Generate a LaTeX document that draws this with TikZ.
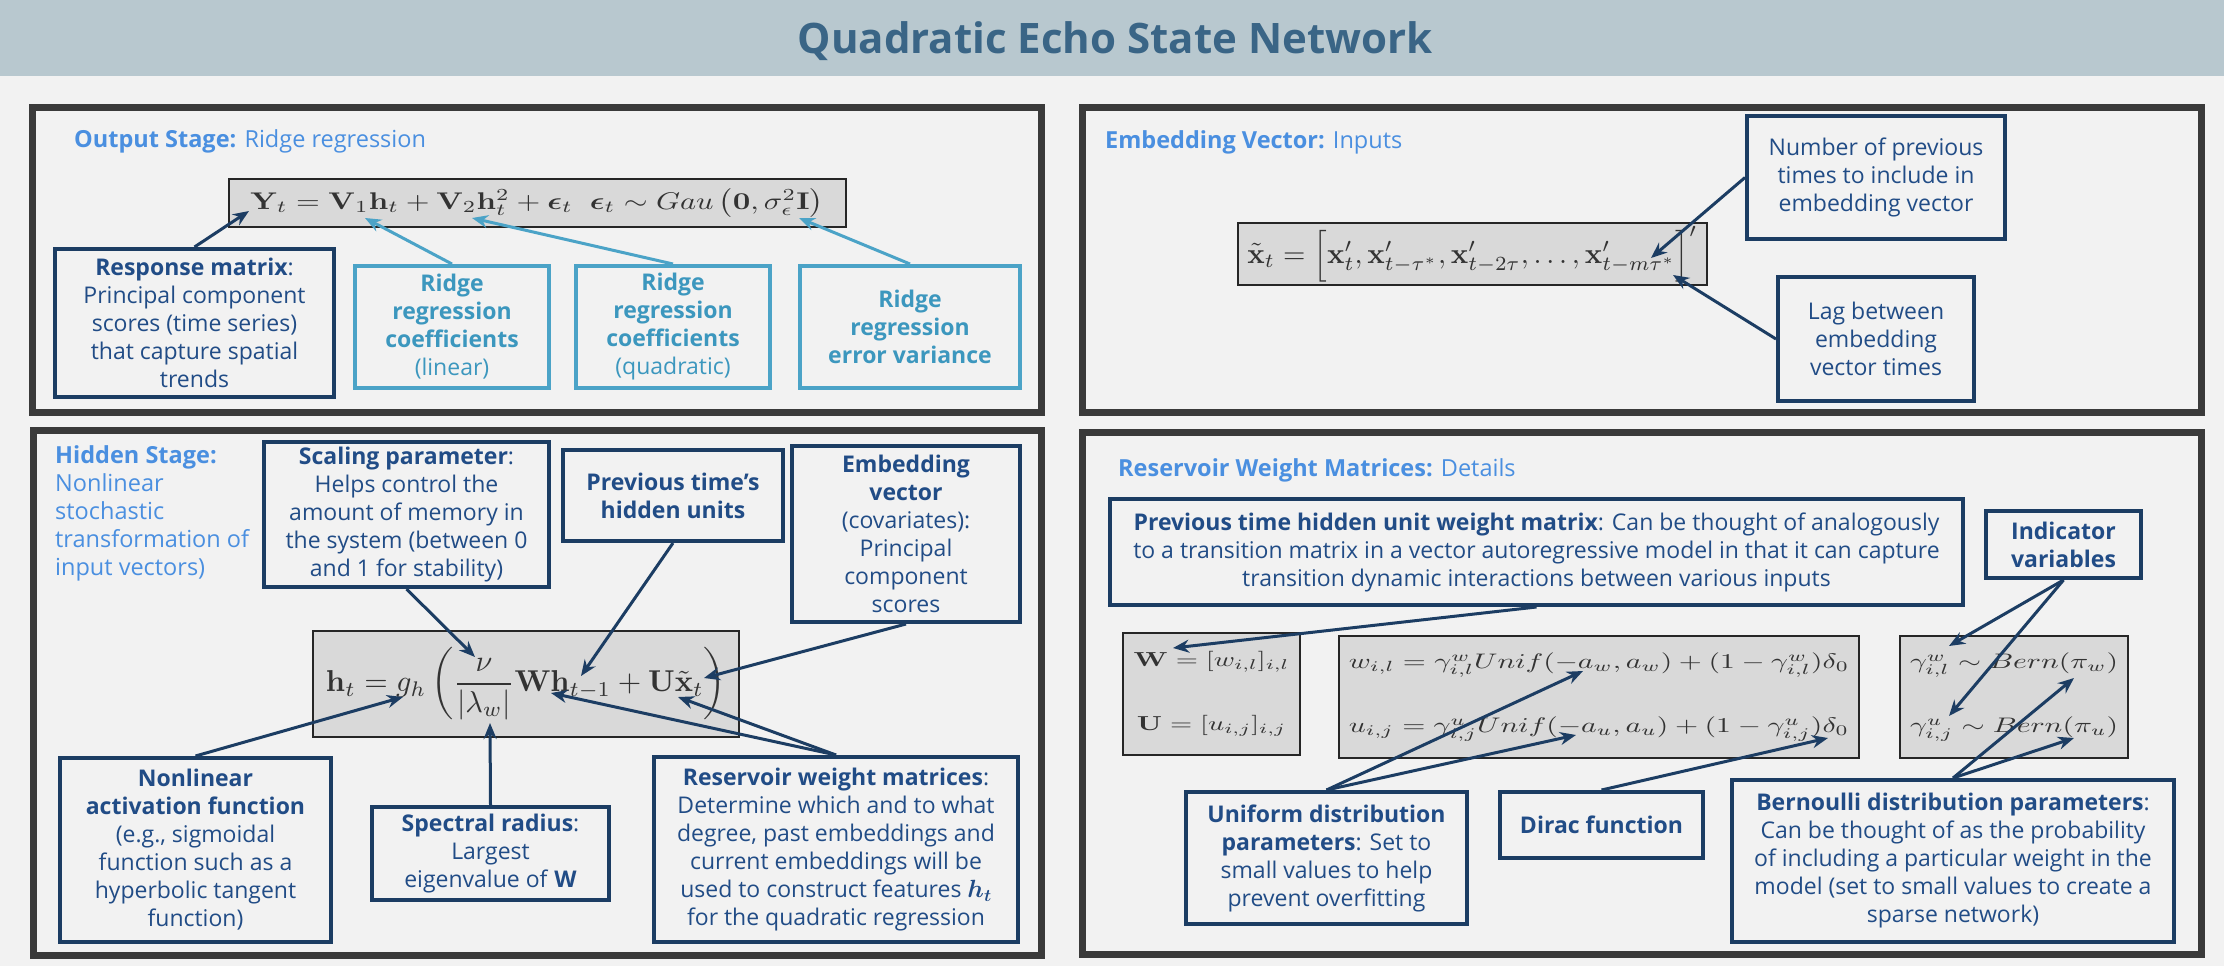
\documentclass[tikz,border=0pt]{standalone}
\usepackage{amsmath}
\usepackage{bm}
\usepackage[no-math]{fontspec}
\setmainfont{Open Sans}
\usetikzlibrary{arrows.meta, positioning}
\definecolor{bandgray}{HTML}{B8C8CF}
\definecolor{pagegray}{HTML}{F2F2F2}
\definecolor{titleblue}{HTML}{3A6586}
\definecolor{headblue}{HTML}{4A8FE0}
\definecolor{panelgray}{HTML}{3A3A3A}
\definecolor{navyline}{HTML}{1C3D63}
\definecolor{navytext}{HTML}{214C86}
\definecolor{tealline}{HTML}{4BA3C7}
\definecolor{tealtext}{HTML}{3C97BE}
\definecolor{eqgray}{HTML}{D9D9D9}
\newcommand{\notefont}{\fontsize{23}{28}\selectfont}
\newcommand{\headfont}{\fontsize{23.5}{28}\selectfont}
% equation stretched to a given width (pt), #2 = height/width ratio of the stretch
\newcommand{\fiteq}[3]{\resizebox{#1pt}{!}{\scalebox{1}[#2]{$#3$}}}

\begin{document}
\begin{tikzpicture}[
    x=1pt, y=-1pt,
    panel_style/.style={draw=panelgray, line width=7pt},
    head_style/.style={font=\headfont, text=headblue, inner sep=0pt},
    note_style/.style={draw=navyline, line width=4pt, text=navytext,
      align=center, inner sep=0pt, font=\notefont},
    ridge_style/.style={note_style, draw=tealline, text=tealtext},
    eq_style/.style={draw=black!85, line width=2pt, fill=eqgray,
      inner sep=0pt, text=black!80, align=center},
    arrow_style/.style={draw=navyline, line width=3pt,
      -{Stealth[length=16pt,width=13pt]}},
    ridge_arrow/.style={arrow_style, draw=tealline}
]
    \useasboundingbox (0,0) rectangle (2224,966);
    \fill[pagegray] (0,0) rectangle (2224,966);

    % --- Bandeau du titre ---
    \fill[bandgray] (0,0) rectangle (2224,76);
    \node[font=\fontsize{42}{50}\selectfont\bfseries, text=titleblue,
          anchor=base] (title) at (1115,53) {Quadratic Echo State Network};

    % --- Cadres des quatre panneaux ---
    \draw[panel_style] (32.5,107.5) rectangle (1041.5,412.5);
    \draw[panel_style] (1082.5,107.5) rectangle (2201.5,412.5);
    \draw[panel_style] (33.5,430.5) rectangle (1041.5,955.5);
    \draw[panel_style] (1082.5,432.5) rectangle (2201.5,954.5);

    % --- Output Stage ---
    \node[head_style, anchor=base west] (outhead) at (74,147)
        {\textbf{Output Stage:} Ridge regression};
    \node[eq_style, minimum width=617, minimum height=48] (eqY) at (537,203)
        {\fiteq{573}{0.79}{\mathbf{Y}_t=\mathbf{V}_1\mathbf{h}_t+\mathbf{V}_2\mathbf{h}_t^2
          +\bm{\epsilon}_t\;\;\bm{\epsilon}_t\sim Gau\left(\mathbf{0},
          \sigma_\epsilon^2\mathbf{I}\right)}};
    \node[note_style, minimum width=279, minimum height=148] (resp) at (194.5,323)
        {\textbf{Response matrix}:\\Principal component\\scores (time series)\\
         that capture spatial\\trends};
    \node[ridge_style, minimum width=194, minimum height=122] (ridgelin) at (452,327)
        {\textbf{Ridge}\\\textbf{regression}\\\textbf{coefficients}\\(linear)};
    \node[ridge_style, minimum width=194, minimum height=122] (ridgequad) at (673,327)
        {\textbf{Ridge}\\\textbf{regression}\\\textbf{coefficients}\\(quadratic)};
    \node[ridge_style, minimum width=220, minimum height=122] (ridgevar) at (910,327)
        {\textbf{Ridge}\\\textbf{regression}\\\textbf{error variance}};
    \coordinate (tY) at (249,211);
    \coordinate (tV1) at (365,218);
    \coordinate (tV2) at (472,218);
    \coordinate (tsig) at (799,218);
    \draw[arrow_style] (resp.north) -- (tY);
    \draw[ridge_arrow] (ridgelin.north) -- (tV1);
    \draw[ridge_arrow] (ridgequad.north) -- (tV2);
    \draw[ridge_arrow] (ridgevar.north) -- (tsig);

    % --- Embedding Vector ---
    \node[head_style, anchor=base west] (embhead) at (1105,148)
        {\textbf{Embedding Vector:} Inputs};
    \node[eq_style, minimum width=469, minimum height=62] (eqX) at (1472.5,254)
        {\fiteq{450}{1.0}{\tilde{\mathbf{x}}_t=\Big[\mathbf{x}'_t,\mathbf{x}'_{t-\tau^*},
          \mathbf{x}'_{t-2\tau},\dots,\mathbf{x}'_{t-m\tau^*}\Big]'}};
    \node[note_style, minimum width=258, minimum height=123] (numprev) at (1876,177.5)
        {Number of previous\\times to include in\\embedding vector};
    \node[note_style, minimum width=196, minimum height=124] (lag) at (1876,339)
        {Lag between\\embedding\\vector times};
    \coordinate (tm) at (1651,258);
    \coordinate (ttau) at (1673,275);
    \draw[arrow_style] (numprev.west) -- (tm);
    \draw[arrow_style] (lag.west) -- (ttau);

    % --- Hidden Stage ---
    \node[head_style, anchor=north west, align=left] (hidhead) at (55,445.5)
        {\textbf{Hidden Stage:}\\Nonlinear\\stochastic\\transformation of\\input vectors)};
    \node[note_style, minimum width=285, minimum height=145] (scaling) at (406.5,514.5)
        {\textbf{Scaling parameter}:\\Helps control the\\amount of memory in\\
         the system (between 0\\and 1 for stability)};
    \node[note_style, minimum width=220, minimum height=91] (prevh) at (673,495.5)
        {\textbf{Previous time’s}\\\textbf{hidden units}};
    \node[note_style, minimum width=228, minimum height=176] (embvec) at (906,534)
        {\textbf{Embedding}\\\textbf{vector}\\(covariates):\\Principal\\component\\scores};
    \node[eq_style, minimum width=426, minimum height=106] (eqH) at (526,684)
        {\fiteq{400}{1.0}{\mathbf{h}_t=g_h\left(\dfrac{\nu}{|\lambda_w|}\mathbf{W}
          \mathbf{h}_{t-1}+\mathbf{U}\tilde{\mathbf{x}}_t\right)}};
    \node[note_style, minimum width=271, minimum height=184] (nonlin) at (195.5,850)
        {\textbf{Nonlinear}\\\textbf{activation function}\\(e.g., sigmoidal\\
         function such as a\\hyperbolic tangent\\function)};
    \node[note_style, minimum width=237, minimum height=93] (spectral) at (490.5,853.5)
        {\textbf{Spectral radius}:\\Largest\\eigenvalue of \textbf{W}};
    \node[note_style, minimum width=364, minimum height=185] (reservoir) at (836,849.5)
        {\textbf{Reservoir weight matrices}:\\Determine which and to what\\
         degree, past embeddings and\\current embeddings will be\\
         used to construct features $\bm{h_t}$\\for the quadratic regression};
    \coordinate (tnu) at (475,657);
    \coordinate (thprev) at (581,676);
    \coordinate (txt) at (704,678);
    \coordinate (tg) at (403,697);
    \coordinate (tlam) at (490,723);
    \coordinate (tW) at (551,693);
    \coordinate (tU) at (678,697);
    \draw[arrow_style] (scaling.south) -- (tnu);
    \draw[arrow_style] (prevh.south) -- (thprev);
    \draw[arrow_style] (embvec.south) -- (txt);
    \draw[arrow_style] (nonlin.north) -- (tg);
    \draw[arrow_style] (spectral.north) -- (tlam);
    \draw[arrow_style] (reservoir.north) -- (tW);
    \draw[arrow_style] (reservoir.north) -- (tU);

    % --- Reservoir Weight Matrices ---
    \node[head_style, anchor=base west] (reshead) at (1118,476)
        {\textbf{Reservoir Weight Matrices:} Details};
    \node[note_style, minimum width=853, minimum height=106] (wmat) at (1536.5,552)
        {\textbf{Previous time hidden unit weight matrix}: Can be thought of analogously\\
         to a transition matrix in a vector autoregressive model in that it can capture\\
         transition dynamic interactions between various inputs};
    \node[note_style, minimum width=155, minimum height=67] (indic) at (2063.5,544.5)
        {\textbf{Indicator}\\\textbf{variables}};
    \node[eq_style, minimum width=177, minimum height=122,
          font=\fontsize{10}{64}\selectfont] (eqWU) at (1211.5,694)
        {\fiteq{156}{0.71}{\mathbf{W}=[w_{i,l}]_{i,l}}\\
         \fiteq{149}{0.71}{\mathbf{U}=[u_{i,j}]_{i,j}}};
    \node[eq_style, minimum width=520, minimum height=122,
          font=\fontsize{10}{64}\selectfont] (eqwu) at (1599,697)
        {\fiteq{500}{0.71}{w_{i,l}=\gamma^w_{i,l}Unif(-a_w,a_w)+(1-\gamma^w_{i,l})\delta_0}\\
         \fiteq{500}{0.71}{u_{i,j}=\gamma^u_{i,j}Unif(-a_u,a_u)+(1-\gamma^u_{i,j})\delta_0}};
    \node[eq_style, minimum width=228, minimum height=122,
          font=\fontsize{10}{64}\selectfont] (eqgam) at (2014,697)
        {\fiteq{208}{0.71}{\gamma^w_{i,l}\sim Bern(\pi_w)}\\
         \fiteq{208}{0.71}{\gamma^u_{i,j}\sim Bern(\pi_u)}};
    \node[note_style, minimum width=281, minimum height=132] (unif) at (1326.5,858)
        {\textbf{Uniform distribution}\\\textbf{parameters}: Set to\\
         small values to help\\prevent overfitting};
    \node[note_style, minimum width=203, minimum height=66] (dirac) at (1601.5,825)
        {\textbf{Dirac function}};
    \node[note_style, minimum width=442, minimum height=162] (bern) at (1953,861)
        {\textbf{Bernoulli distribution parameters}:\\Can be thought of as the probability\\
         of including a particular weight in the\\model (set to small values to create a\\
         sparse network)};
    \coordinate (tWm) at (1173,648);
    \coordinate (tgw) at (1949,646);
    \coordinate (tgu) at (1949,716);
    \coordinate (taw) at (1583,671);
    \coordinate (tau) at (1576,735);
    \coordinate (tdelta) at (1828,738);
    \coordinate (tpiw) at (2074,678);
    \coordinate (tpiu) at (2074,738);
    \draw[arrow_style] (wmat.south) -- (tWm);
    \draw[arrow_style] (indic.south) -- (tgw);
    \draw[arrow_style] (indic.south) -- (tgu);
    \draw[arrow_style] (unif.north) -- (taw);
    \draw[arrow_style] (unif.north) -- (tau);
    \draw[arrow_style] (dirac.north) -- (tdelta);
    \draw[arrow_style] (bern.north) -- (tpiw);
    \draw[arrow_style] (bern.north) -- (tpiu);

\end{tikzpicture}
\end{document}
